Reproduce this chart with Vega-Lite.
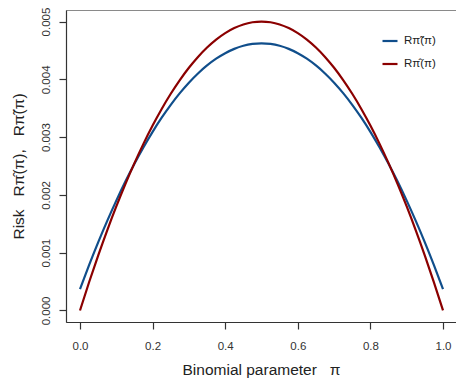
{
  "$schema": "https://vega.github.io/schema/vega-lite/v6.json",
  "autosize": {"type": "none"},
  "padding": {"left": 66, "top": 10, "right": 0, "bottom": 56},
  "width": 390,
  "height": 312,
  "background": "white",
  "config": {
    "font": "Liberation Sans",
    "view": {"stroke": "#8a8a8a", "strokeWidth": 1},
    "axis": {"grid": false, "domainColor": "#333", "tickColor": "#333", "labelColor": "#333", "titleColor": "#222", "titleFontWeight": "normal", "domainWidth": 1.2, "tickWidth": 1.2}
  },
  "data": {"values": [
    {"p": 0.000, "s": "Rπ̃(π)", "risk": 0.00036982},
    {"p": 0.025, "s": "Rπ̃(π)", "risk": 0.00078449},
    {"p": 0.050, "s": "Rπ̃(π)", "risk": 0.00117788},
    {"p": 0.075, "s": "Rπ̃(π)", "risk": 0.00155002},
    {"p": 0.100, "s": "Rπ̃(π)", "risk": 0.00190089},
    {"p": 0.125, "s": "Rπ̃(π)", "risk": 0.00223049},
    {"p": 0.150, "s": "Rπ̃(π)", "risk": 0.00253883},
    {"p": 0.175, "s": "Rπ̃(π)", "risk": 0.00282591},
    {"p": 0.200, "s": "Rπ̃(π)", "risk": 0.00309172},
    {"p": 0.225, "s": "Rπ̃(π)", "risk": 0.00333626},
    {"p": 0.250, "s": "Rπ̃(π)", "risk": 0.00355954},
    {"p": 0.275, "s": "Rπ̃(π)", "risk": 0.00376156},
    {"p": 0.300, "s": "Rπ̃(π)", "risk": 0.00394231},
    {"p": 0.325, "s": "Rπ̃(π)", "risk": 0.00410180},
    {"p": 0.350, "s": "Rπ̃(π)", "risk": 0.00424001},
    {"p": 0.375, "s": "Rπ̃(π)", "risk": 0.00435697},
    {"p": 0.400, "s": "Rπ̃(π)", "risk": 0.00445266},
    {"p": 0.425, "s": "Rπ̃(π)", "risk": 0.00452709},
    {"p": 0.450, "s": "Rπ̃(π)", "risk": 0.00458025},
    {"p": 0.475, "s": "Rπ̃(π)", "risk": 0.00461215},
    {"p": 0.500, "s": "Rπ̃(π)", "risk": 0.00462278},
    {"p": 0.525, "s": "Rπ̃(π)", "risk": 0.00461215},
    {"p": 0.550, "s": "Rπ̃(π)", "risk": 0.00458025},
    {"p": 0.575, "s": "Rπ̃(π)", "risk": 0.00452709},
    {"p": 0.600, "s": "Rπ̃(π)", "risk": 0.00445266},
    {"p": 0.625, "s": "Rπ̃(π)", "risk": 0.00435697},
    {"p": 0.650, "s": "Rπ̃(π)", "risk": 0.00424001},
    {"p": 0.675, "s": "Rπ̃(π)", "risk": 0.00410180},
    {"p": 0.700, "s": "Rπ̃(π)", "risk": 0.00394231},
    {"p": 0.725, "s": "Rπ̃(π)", "risk": 0.00376156},
    {"p": 0.750, "s": "Rπ̃(π)", "risk": 0.00355954},
    {"p": 0.775, "s": "Rπ̃(π)", "risk": 0.00333626},
    {"p": 0.800, "s": "Rπ̃(π)", "risk": 0.00309172},
    {"p": 0.825, "s": "Rπ̃(π)", "risk": 0.00282591},
    {"p": 0.850, "s": "Rπ̃(π)", "risk": 0.00253883},
    {"p": 0.875, "s": "Rπ̃(π)", "risk": 0.00223049},
    {"p": 0.900, "s": "Rπ̃(π)", "risk": 0.00190089},
    {"p": 0.925, "s": "Rπ̃(π)", "risk": 0.00155002},
    {"p": 0.950, "s": "Rπ̃(π)", "risk": 0.00117788},
    {"p": 0.975, "s": "Rπ̃(π)", "risk": 0.00078449},
    {"p": 1.000, "s": "Rπ̃(π)", "risk": 0.00036982},
    {"p": 0.000, "s": "Rπ̂(π)", "risk": 0.0},
    {"p": 0.025, "s": "Rπ̂(π)", "risk": 0.0004875},
    {"p": 0.050, "s": "Rπ̂(π)", "risk": 0.00095},
    {"p": 0.075, "s": "Rπ̂(π)", "risk": 0.0013875},
    {"p": 0.100, "s": "Rπ̂(π)", "risk": 0.0018},
    {"p": 0.125, "s": "Rπ̂(π)", "risk": 0.0021875},
    {"p": 0.150, "s": "Rπ̂(π)", "risk": 0.00255},
    {"p": 0.175, "s": "Rπ̂(π)", "risk": 0.0028875},
    {"p": 0.200, "s": "Rπ̂(π)", "risk": 0.0032},
    {"p": 0.225, "s": "Rπ̂(π)", "risk": 0.0034875},
    {"p": 0.250, "s": "Rπ̂(π)", "risk": 0.00375},
    {"p": 0.275, "s": "Rπ̂(π)", "risk": 0.0039875},
    {"p": 0.300, "s": "Rπ̂(π)", "risk": 0.0042},
    {"p": 0.325, "s": "Rπ̂(π)", "risk": 0.0043875},
    {"p": 0.350, "s": "Rπ̂(π)", "risk": 0.00455},
    {"p": 0.375, "s": "Rπ̂(π)", "risk": 0.0046875},
    {"p": 0.400, "s": "Rπ̂(π)", "risk": 0.0048},
    {"p": 0.425, "s": "Rπ̂(π)", "risk": 0.0048875},
    {"p": 0.450, "s": "Rπ̂(π)", "risk": 0.00495},
    {"p": 0.475, "s": "Rπ̂(π)", "risk": 0.0049875},
    {"p": 0.500, "s": "Rπ̂(π)", "risk": 0.005},
    {"p": 0.525, "s": "Rπ̂(π)", "risk": 0.0049875},
    {"p": 0.550, "s": "Rπ̂(π)", "risk": 0.00495},
    {"p": 0.575, "s": "Rπ̂(π)", "risk": 0.0048875},
    {"p": 0.600, "s": "Rπ̂(π)", "risk": 0.0048},
    {"p": 0.625, "s": "Rπ̂(π)", "risk": 0.0046875},
    {"p": 0.650, "s": "Rπ̂(π)", "risk": 0.00455},
    {"p": 0.675, "s": "Rπ̂(π)", "risk": 0.0043875},
    {"p": 0.700, "s": "Rπ̂(π)", "risk": 0.0042},
    {"p": 0.725, "s": "Rπ̂(π)", "risk": 0.0039875},
    {"p": 0.750, "s": "Rπ̂(π)", "risk": 0.00375},
    {"p": 0.775, "s": "Rπ̂(π)", "risk": 0.0034875},
    {"p": 0.800, "s": "Rπ̂(π)", "risk": 0.0032},
    {"p": 0.825, "s": "Rπ̂(π)", "risk": 0.0028875},
    {"p": 0.850, "s": "Rπ̂(π)", "risk": 0.00255},
    {"p": 0.875, "s": "Rπ̂(π)", "risk": 0.0021875},
    {"p": 0.900, "s": "Rπ̂(π)", "risk": 0.0018},
    {"p": 0.925, "s": "Rπ̂(π)", "risk": 0.0013875},
    {"p": 0.950, "s": "Rπ̂(π)", "risk": 0.00095},
    {"p": 0.975, "s": "Rπ̂(π)", "risk": 0.0004875},
    {"p": 1.000, "s": "Rπ̂(π)", "risk": 0.0}
  ]},
  "mark": {"type": "line", "strokeWidth": 2.2, "interpolate": "monotone"},
  "encoding": {
    "x": {
      "field": "p", "type": "quantitative",
      "scale": {"domain": [-0.03857, 1.03581], "nice": false, "zero": false},
      "axis": {"values": [0, 0.2, 0.4, 0.6, 0.8, 1.0], "format": ".1f", "tickSize": 7, "labelFontSize": 11.5, "labelPadding": 11, "title": "Binomial parameter\u00a0\u00a0\u00a0π", "titleFontSize": 15.5, "titlePadding": 11}
    },
    "y": {
      "field": "risk", "type": "quantitative",
      "scale": {"domain": [-0.0002, 0.0052], "nice": false, "zero": false},
      "axis": {"values": [0, 0.001, 0.002, 0.003, 0.004, 0.005], "format": ".3f", "tickSize": 7, "labelFontSize": 11.5, "labelAngle": -90, "labelAlign": "center", "labelBaseline": "bottom", "labelPadding": 8, "title": "Risk\u00a0\u00a0 Rπ̂(π),\u00a0\u00a0 Rπ̃(π)", "titleFontSize": 15.5, "titlePadding": 14}
    },
    "color": {
      "field": "s", "type": "nominal",
      "scale": {"domain": ["Rπ̃(π)", "Rπ̂(π)"], "range": ["#104E8B", "#8B0000"]},
      "legend": {"title": null, "orient": "none", "legendX": 315, "legendY": 22, "symbolType": "stroke", "symbolSize": 225, "symbolStrokeWidth": 2.2, "labelFontSize": 11.5, "labelColor": "#222", "labelOffset": 5, "rowPadding": 8}
    }
  }
}
